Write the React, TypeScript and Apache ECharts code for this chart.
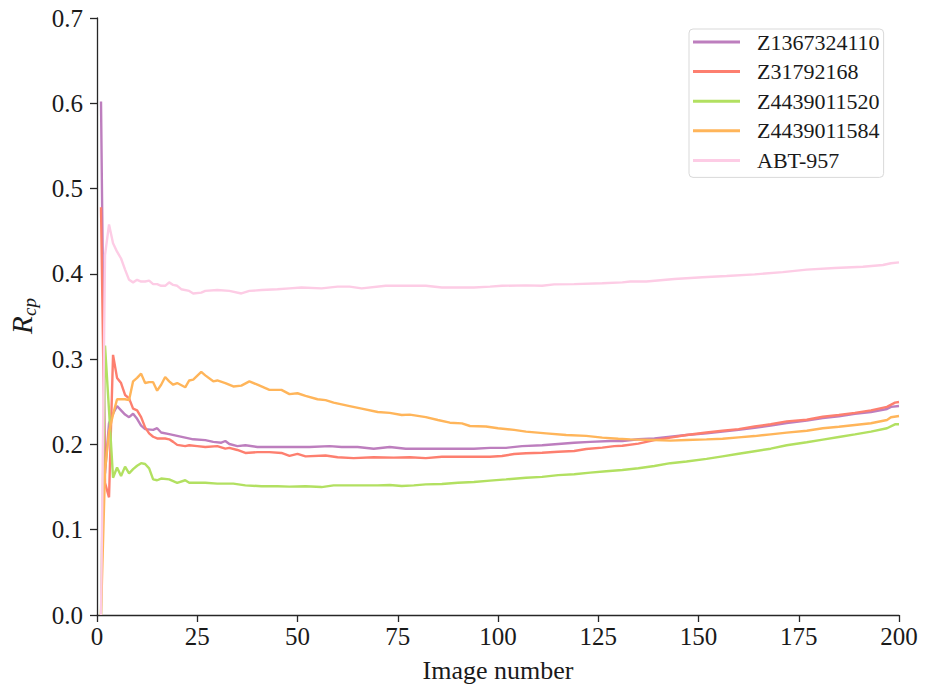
import React, { useEffect, useRef } from "react";
import * as echarts from "echarts";

const seriesNames = ["Z1367324110", "Z31792168", "Z4439011520", "Z4439011584", "ABT-957"];
const seriesColors = ["#bd7ebe", "#fd7f6f", "#b2e061", "#ffb55a", "#fdcce5"];
const xTicks = { min: 0, max: 200, interval: 25 };
const yTicks = { min: 0, max: 0.7, interval: 0.1 };

const purple: [number, number][] = [
  [1, 0.602], [2, 0.166], [3, 0.225], [4, 0.236], [5, 0.245], [6, 0.24], [7, 0.235], [8, 0.232], [9, 0.236],
  [10, 0.23], [11, 0.222], [12, 0.218], [14, 0.217], [15, 0.219], [16, 0.214], [18, 0.212], [20, 0.21],
  [22, 0.208], [24, 0.206], [27, 0.205], [29, 0.203], [31, 0.202], [32, 0.204], [33, 0.2005], [35, 0.198],
  [37, 0.199], [40, 0.197], [44, 0.197], [48, 0.197], [53, 0.197], [58, 0.198], [61, 0.197], [65, 0.197],
  [69, 0.195], [73, 0.197], [77, 0.195], [82, 0.195], [86, 0.195], [90, 0.195], [94, 0.195], [98, 0.196],
  [102, 0.196], [106, 0.198], [111, 0.199], [115, 0.2005], [119, 0.202], [123, 0.203], [128, 0.204],
  [131, 0.204], [135, 0.206], [139, 0.207], [143, 0.209], [147, 0.211], [152, 0.213], [156, 0.215],
  [160, 0.217], [164, 0.2196], [168, 0.222], [172, 0.225], [177, 0.228], [181, 0.231], [185, 0.233],
  [189, 0.236], [193, 0.238], [197, 0.2415], [198, 0.244], [200, 0.245],
];

const red: [number, number][] = [
  [1, 0.478], [2, 0.155], [3, 0.138], [4, 0.305], [5, 0.278], [6, 0.272], [7, 0.258], [8, 0.254], [9, 0.242],
  [10, 0.24], [11, 0.232], [12, 0.22], [13, 0.213], [14, 0.209], [15, 0.207], [17, 0.207], [18, 0.206],
  [19, 0.203], [20, 0.1995], [22, 0.198], [23, 0.199], [25, 0.198], [27, 0.197], [30, 0.198], [32, 0.195],
  [33, 0.196], [35, 0.1935], [37, 0.19], [40, 0.191], [43, 0.191], [46, 0.19], [48, 0.1865], [50, 0.189],
  [52, 0.186], [57, 0.187], [60, 0.185], [64, 0.184], [69, 0.185], [74, 0.1845], [78, 0.185], [82, 0.184],
  [86, 0.1856], [90, 0.1856], [94, 0.1856], [98, 0.1856], [101, 0.1864], [104, 0.1888], [107, 0.1896],
  [111, 0.1903], [115, 0.1915], [119, 0.1923], [122, 0.1946], [126, 0.1962], [129, 0.198], [131, 0.1985],
  [135, 0.201], [139, 0.205], [143, 0.208], [147, 0.211], [152, 0.214], [156, 0.216], [160, 0.218],
  [164, 0.221], [168, 0.2236], [172, 0.227], [177, 0.229], [181, 0.2325], [185, 0.2345], [189, 0.237],
  [193, 0.24], [197, 0.244], [199, 0.249], [200, 0.2497],
];

const green: [number, number][] = [
  [1, 0.0], [2, 0.316], [3, 0.24], [4, 0.161], [5, 0.173], [6, 0.163], [7, 0.174], [8, 0.166], [9, 0.171],
  [10, 0.175], [11, 0.178], [12, 0.177], [13, 0.172], [14, 0.159], [15, 0.158], [16, 0.16], [18, 0.159],
  [20, 0.155], [22, 0.158], [23, 0.155], [27, 0.155], [30, 0.154], [34, 0.154], [37, 0.152], [41, 0.151],
  [45, 0.151], [48, 0.1505], [52, 0.151], [56, 0.15], [59, 0.152], [63, 0.152], [65, 0.152], [70, 0.152],
  [73, 0.1524], [76, 0.1512], [79, 0.152], [82, 0.1532], [86, 0.1536], [90, 0.155], [94, 0.156],
  [98, 0.1575], [102, 0.159], [107, 0.161], [111, 0.162], [115, 0.164], [119, 0.165], [123, 0.167],
  [127, 0.1685], [131, 0.17], [135, 0.172], [139, 0.1747], [143, 0.178], [147, 0.18], [152, 0.183],
  [156, 0.186], [160, 0.189], [164, 0.192], [168, 0.195], [172, 0.199], [177, 0.2025], [181, 0.2056],
  [185, 0.2087], [189, 0.2118], [193, 0.215], [197, 0.219], [199, 0.2236], [200, 0.2236],
];

const orange: [number, number][] = [
  [1, 0.0], [2, 0.17], [3, 0.215], [4, 0.235], [5, 0.253], [6, 0.253], [7, 0.253], [8, 0.252], [9, 0.274],
  [10, 0.278], [11, 0.283], [12, 0.272], [13, 0.273], [14, 0.273], [15, 0.263], [16, 0.27], [17, 0.279],
  [18, 0.274], [19, 0.27], [20, 0.272], [22, 0.267], [23, 0.275], [24, 0.276], [26, 0.285], [27, 0.281],
  [29, 0.274], [30, 0.275], [32, 0.272], [34, 0.268], [36, 0.269], [38, 0.274], [40, 0.27], [41, 0.268],
  [43, 0.264], [46, 0.264], [48, 0.259], [50, 0.26], [52, 0.257], [55, 0.253], [57, 0.252], [59, 0.249],
  [61, 0.247], [63, 0.245], [66, 0.242], [70, 0.238], [73, 0.237], [76, 0.2345], [78, 0.235], [82, 0.232],
  [85, 0.2286], [88, 0.2255], [91, 0.2247], [93, 0.2216], [97, 0.221], [100, 0.219], [104, 0.217],
  [107, 0.215], [112, 0.213], [117, 0.211], [122, 0.21], [126, 0.208], [130, 0.2067], [133, 0.2059],
  [139, 0.2052], [143, 0.2044], [147, 0.2052], [152, 0.2059], [156, 0.2067], [160, 0.2083], [164, 0.2098],
  [168, 0.2118], [172, 0.2138], [177, 0.216], [181, 0.219], [185, 0.2208], [189, 0.2228], [193, 0.2248],
  [197, 0.2286], [198, 0.2318], [200, 0.2333],
];

const pink: [number, number][] = [
  [1, 0.0], [2, 0.422], [3, 0.458], [4, 0.436], [5, 0.426], [6, 0.418], [7, 0.405], [8, 0.393], [9, 0.39],
  [10, 0.393], [11, 0.391], [12, 0.391], [13, 0.392], [14, 0.388], [15, 0.388], [16, 0.386], [17, 0.386],
  [18, 0.39], [19, 0.387], [20, 0.386], [21, 0.382], [23, 0.38], [24, 0.377], [26, 0.378], [27, 0.38],
  [30, 0.381], [33, 0.38], [36, 0.377], [38, 0.38], [41, 0.381], [45, 0.382], [48, 0.383], [51, 0.384],
  [56, 0.383], [60, 0.385], [63, 0.385], [66, 0.383], [72, 0.386], [77, 0.386], [82, 0.386], [86, 0.384],
  [94, 0.384], [98, 0.385], [101, 0.386], [107, 0.3865], [111, 0.386], [114, 0.3877], [119, 0.388],
  [126, 0.389], [131, 0.39], [133, 0.391], [137, 0.391], [144, 0.394], [151, 0.396], [157, 0.3975],
  [164, 0.3994], [171, 0.402], [177, 0.405], [184, 0.4068], [191, 0.4084], [196, 0.4104], [198, 0.4124],
  [200, 0.4135],
];

const allData = [purple, red, green, orange, pink];

const FONT = "Liberation Serif";
const AXIS_COLOR = "#262626";

export default function App() {
  const ref = useRef<HTMLDivElement>(null);
  useEffect(() => {
    if (!ref.current) return;
    const chart = echarts.init(ref.current, undefined, { renderer: "svg" });
    chart.setOption({
      animation: false,
      backgroundColor: "#ffffff",
      grid: { left: 97, right: 26, top: 18, bottom: 77, containLabel: false },
      xAxis: {
        type: "value",
        min: xTicks.min,
        max: xTicks.max,
        interval: xTicks.interval,
        name: "Image number",
        nameLocation: "middle",
        nameGap: 42,
        nameTextStyle: { fontFamily: FONT, fontSize: 26, color: "#1a1a1a" },
        axisLine: { show: true, lineStyle: { color: AXIS_COLOR, width: 1.3 } },
        axisTick: { show: true, inside: false, length: 7, lineStyle: { color: AXIS_COLOR, width: 1.3 } },
        axisLabel: { fontFamily: FONT, fontSize: 25, color: "#1a1a1a", margin: 9 },
        splitLine: { show: false },
      },
      yAxis: {
        type: "value",
        min: yTicks.min,
        max: yTicks.max,
        interval: yTicks.interval,
        axisLine: { show: true, lineStyle: { color: AXIS_COLOR, width: 1.3 } },
        axisTick: { show: true, inside: false, length: 7, lineStyle: { color: AXIS_COLOR, width: 1.3 } },
        axisLabel: {
          fontFamily: FONT,
          fontSize: 25,
          color: "#1a1a1a",
          margin: 14,
          formatter: (v: number) => v.toFixed(1),
        },
        splitLine: { show: false },
      },
      legend: {
        left: 689,
        top: 29,
        orient: "vertical",
        padding: [2, 4, 6, 4],
        itemWidth: 47,
        itemHeight: 3,
        itemGap: 7.6,
        backgroundColor: "#ffffff",
        borderColor: "#d9d9d9",
        borderWidth: 1,
        borderRadius: 4,
        icon: "rect",
        textStyle: {
          fontFamily: FONT,
          fontSize: 22,
          color: "#1a1a1a",
          lineHeight: 22,
          padding: [0, 0, 0, 12],
        },
        data: seriesNames,
      },
      graphic: [
        {
          type: "group",
          x: 36,
          y: 312,
          rotation: Math.PI / 2,
          children: [
            {
              type: "text",
              x: -22,
              y: 0,
              style: {
                text: "R",
                fontFamily: FONT,
                fontStyle: "italic",
                fontSize: 29,
                fill: "#1a1a1a",
                textVerticalAlign: "bottom",
                textAlign: "left",
              },
            },
            {
              type: "text",
              x: -4,
              y: 3,
              style: {
                text: "cp",
                fontFamily: FONT,
                fontStyle: "italic",
                fontSize: 19,
                fill: "#1a1a1a",
                textVerticalAlign: "bottom",
                textAlign: "left",
              },
            },
          ],
        },
      ],
      series: allData.map((d, i) => ({
        name: seriesNames[i],
        type: "line",
        data: d,
        showSymbol: false,
        symbol: "none",
        color: seriesColors[i],
        lineStyle: { color: seriesColors[i], width: 2.4 },
        itemStyle: { color: seriesColors[i] },
        clip: true,
      })),
    });
    return () => chart.dispose();
  }, []);
  return (
    <div
      ref={ref}
      style={{ position: "fixed", left: 0, top: 0, width: 925, height: 692 }}
    />
  );
}
